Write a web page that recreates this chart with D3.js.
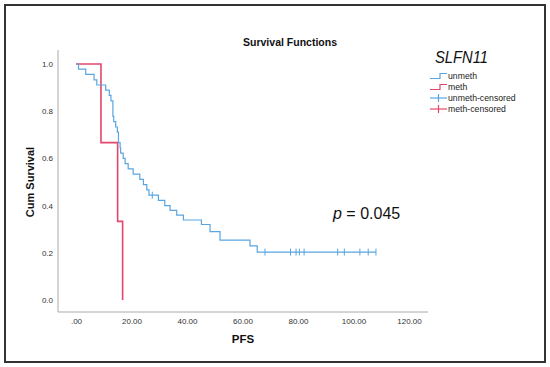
<!DOCTYPE html>
<html>
<head>
<meta charset="utf-8">
<script src="https://cdn.jsdelivr.net/npm/d3@7"></script>
<style>
  html, body { margin: 0; padding: 0; background: #fff; }
  svg { display: block; }
  text { font-family: "Liberation Sans", Arial, sans-serif; }
</style>
</head>
<body>
<svg id="chart" width="550" height="367"></svg>
<script>
// ---- data ----
const xTicks = [0, 20, 40, 60, 80, 100, 120];
const yTicks = [0, 0.2, 0.4, 0.6, 0.8, 1.0];

// unmeth: step times and survival level after each step
const unmethTimes = [0, 0.9, 3.5, 6.5, 7.5, 10.7, 12.0, 12.6, 13.3, 13.6, 14.3, 14.9, 15.3, 15.9, 16.1, 17.0, 17.7, 18.8, 20.6, 23.0, 24.3, 25.5, 26.3, 29.7, 32.0, 33.9, 36.3, 38.7, 45.2, 48.3, 51.9, 62.7, 65.3, 108.1];
const unmethSurv  = [1.0, 0.978, 0.956, 0.933, 0.911, 0.889, 0.867, 0.844, 0.778, 0.756, 0.733, 0.711, 0.667, 0.644, 0.622, 0.600, 0.578, 0.556, 0.533, 0.511, 0.489, 0.467, 0.444, 0.422, 0.400, 0.380, 0.360, 0.339, 0.320, 0.290, 0.254, 0.229, 0.203, 0.203];
const unmethCensored = [27.5, 68.1, 77.3, 79.3, 80.5, 82.2, 94.3, 96.7, 102.3, 105.3, 108.1];

// meth
const methTimes = [0, 9.0, 15.0, 16.8];
const methSurv  = [1.0, 0.667, 0.333, 0.0];
const methCensored = [];

const legendLabels = ["unmeth", "meth", "unmeth-censored", "meth-censored"];
const colors = { unmeth: "#5aa5e0", meth: "#e3466c" };

// ---- layout ----
const svg = d3.select("#chart");
const x = d3.scaleLinear().domain([0, 120]).range([76, 409]);
const y = d3.scaleLinear().domain([0, 1]).range([300, 64]);
const axisY0 = 312, axisX0 = 58;

// frame
svg.append("rect").attr("x", 5).attr("y", 5).attr("width", 540).attr("height", 357)
  .attr("fill", "none").attr("stroke", "#333").attr("stroke-width", 2);

// axes lines
svg.append("line").attr("x1", axisX0).attr("x2", 428).attr("y1", axisY0).attr("y2", axisY0)
  .attr("stroke", "#aaa").attr("stroke-width", 1);
svg.append("line").attr("x1", axisX0).attr("x2", axisX0).attr("y1", 50).attr("y2", axisY0)
  .attr("stroke", "#aaa").attr("stroke-width", 1);

const gx = svg.append("g").attr("transform", `translate(0,${axisY0})`)
  .call(d3.axisBottom(x).tickValues(xTicks).tickSize(0).tickPadding(6)
    .tickFormat(d => d === 0 ? ".00" : d3.format(".2f")(d)));
gx.select(".domain").remove();
gx.selectAll("text").attr("font-size", 8).attr("fill", "#333").attr("font-family", "Liberation Sans, Arial, sans-serif");

const gy = svg.append("g").attr("transform", `translate(${axisX0},0)`)
  .call(d3.axisLeft(y).tickValues(yTicks).tickSize(0).tickPadding(5).tickFormat(d3.format(".1f")));
gy.select(".domain").remove();
gy.selectAll("text").attr("font-size", 8).attr("fill", "#333").attr("font-family", "Liberation Sans, Arial, sans-serif");

// titles
svg.append("text").attr("x", 290).attr("y", 46).attr("text-anchor", "middle")
  .attr("font-size", 10.5).attr("font-weight", "bold").attr("fill", "#111").text("Survival Functions");
svg.append("text").attr("x", 243).attr("y", 343).attr("text-anchor", "middle")
  .attr("font-size", 11.5).attr("font-weight", "bold").attr("fill", "#111").text("PFS");
svg.append("text").attr("transform", "translate(34,182) rotate(-90)").attr("text-anchor", "middle")
  .attr("font-size", 11).attr("font-weight", "bold").attr("fill", "#111").text("Cum Survival");

// curves
const line = d3.line().x(d => x(d.t)).y(d => y(d.s)).curve(d3.curveStepAfter);
const unmeth = unmethTimes.map((t, i) => ({ t, s: unmethSurv[i] }));
const meth = methTimes.map((t, i) => ({ t, s: methSurv[i] }));

function survAt(data, t) {
  let s = data[0].s;
  for (const d of data) if (d.t <= t) s = d.s;
  return s;
}

svg.append("path").datum(meth).attr("d", line).attr("fill", "none")
  .attr("stroke", colors.meth).attr("stroke-width", 1.6);
svg.append("path").datum(unmeth).attr("d", line).attr("fill", "none")
  .attr("stroke", colors.unmeth).attr("stroke-width", 1.2);

function censorMarks(times, data, color) {
  svg.append("g").selectAll("line").data(times).join("line")
    .attr("x1", t => x(t)).attr("x2", t => x(t))
    .attr("y1", t => y(survAt(data, t)) - 3.5).attr("y2", t => y(survAt(data, t)) + 3.5)
    .attr("stroke", color).attr("stroke-width", 1);
}
censorMarks(unmethCensored, unmeth, colors.unmeth);
censorMarks(methCensored, meth, colors.meth);

// p-value
const pt = svg.append("text").attr("x", 333).attr("y", 219).attr("font-size", 16)
  .attr("font-family", "Open Sans, Noto Sans, sans-serif").attr("fill", "#111");
pt.append("tspan").attr("font-style", "italic").text("p");
pt.append("tspan").text(" = 0.045");

// legend
svg.append("text").attr("x", 435).attr("y", 63).attr("font-size", 17).attr("font-style", "italic")
  .attr("textLength", 53).attr("lengthAdjust", "spacingAndGlyphs")
  .attr("font-family", "Open Sans, Noto Sans, sans-serif").attr("fill", "#111").text("SLFN11");

const legColors = [colors.unmeth, colors.meth, colors.unmeth, colors.meth];
const lg = svg.append("g");
legendLabels.forEach((lab, i) => {
  const cy = 76 + i * 11;
  if (i < 2) {
    lg.append("path").attr("d", `M430,${cy + 2.5}H440V${cy - 2.5}H447`)
      .attr("fill", "none").attr("stroke", legColors[i]).attr("stroke-width", 1.2);
  } else {
    lg.append("line").attr("x1", 430).attr("x2", 447).attr("y1", cy).attr("y2", cy)
      .attr("stroke", legColors[i]).attr("stroke-width", 1.2);
    lg.append("line").attr("x1", 438.5).attr("x2", 438.5).attr("y1", cy - 4).attr("y2", cy + 4)
      .attr("stroke", legColors[i]).attr("stroke-width", 1.2);
  }
  lg.append("text").attr("x", 448).attr("y", cy + 3).attr("font-size", 8.7)
    .attr("fill", "#222").text(lab);
});
</script>
</body>
</html>
